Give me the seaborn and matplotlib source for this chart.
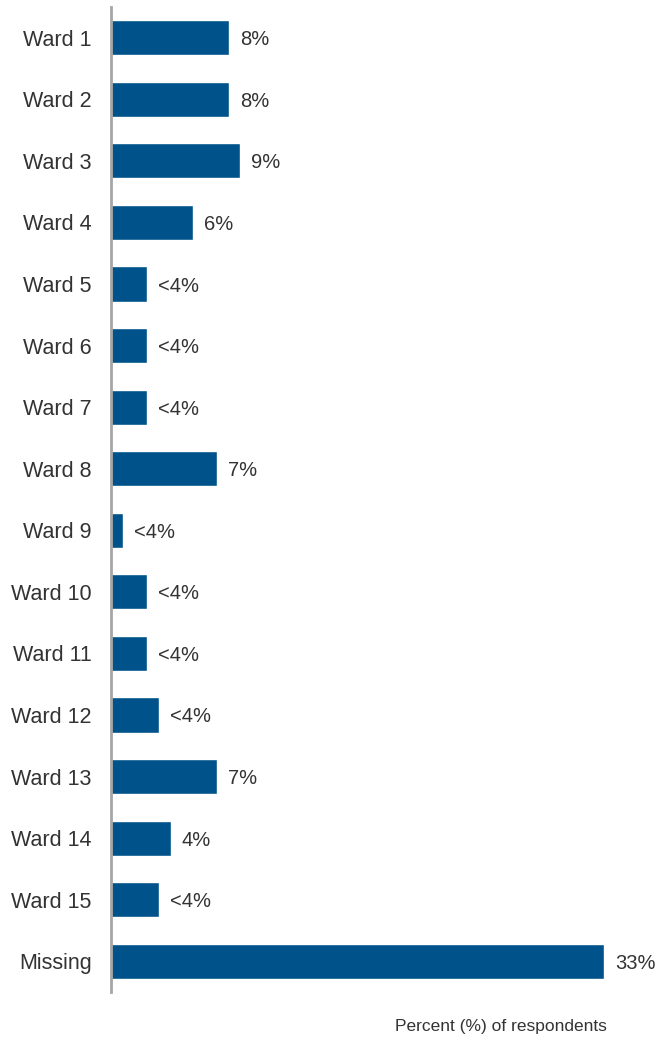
import matplotlib
matplotlib.use('Agg')
import matplotlib.pyplot as plt
import seaborn as sns
import pandas as pd

# wards and share of respondents (bar lengths)
wards = ['Ward 1', 'Ward 2', 'Ward 3', 'Ward 4', 'Ward 5', 'Ward 6', 'Ward 7',
         'Ward 8', 'Ward 9', 'Ward 10', 'Ward 11', 'Ward 12', 'Ward 13',
         'Ward 14', 'Ward 15', 'Missing']
pct = [7.9, 7.9, 8.6, 5.5, 2.4, 2.4, 2.4, 7.1, 0.8, 2.4, 2.4, 3.2, 7.1,
       4.0, 3.2, 33.0]
labels = ['8%', '8%', '9%', '6%', '<4%', '<4%', '<4%', '7%', '<4%', '<4%',
          '<4%', '<4%', '7%', '4%', '<4%', '33%']

df = pd.DataFrame({'ward': wards, 'pct': pct})

sns.set_style('white')
plt.rcParams['font.family'] = ['Liberation Sans', 'DejaVu Sans']
txt = '#333333'

fig = plt.figure(figsize=(6.58, 10.38), dpi=100)
ax = fig.add_axes([0.1687, 0.0443, 0.8013, 0.949])

sns.barplot(data=df, x='pct', y='ward', orient='h', color='#00538A',
            saturation=1, width=0.57, ax=ax)

for i, (v, lab) in enumerate(zip(pct, labels)):
    ax.annotate(lab, xy=(v, i), xytext=(8, 0), textcoords='offset points',
                va='center_baseline', ha='left', fontsize=14.5, color=txt)

ax.set_xlim(0, 35.27)
ax.set_ylim(15.5, -0.5)
ax.set_xticks([])
ax.set_ylabel('')
ax.set_xlabel('')
ax.tick_params(axis='y', length=0, pad=14, labelsize=15.5, labelcolor=txt)
for s in ['top', 'right', 'bottom']:
    ax.spines[s].set_visible(False)
ax.spines['left'].set_color('#a6a6a6')
ax.spines['left'].set_linewidth(2)

fig.text(501 / 658, 1 - 1027 / 1038, 'Percent (%) of respondents',
         ha='center', va='center', fontsize=12.5, color=txt)

fig.savefig('out.png', dpi=100)
